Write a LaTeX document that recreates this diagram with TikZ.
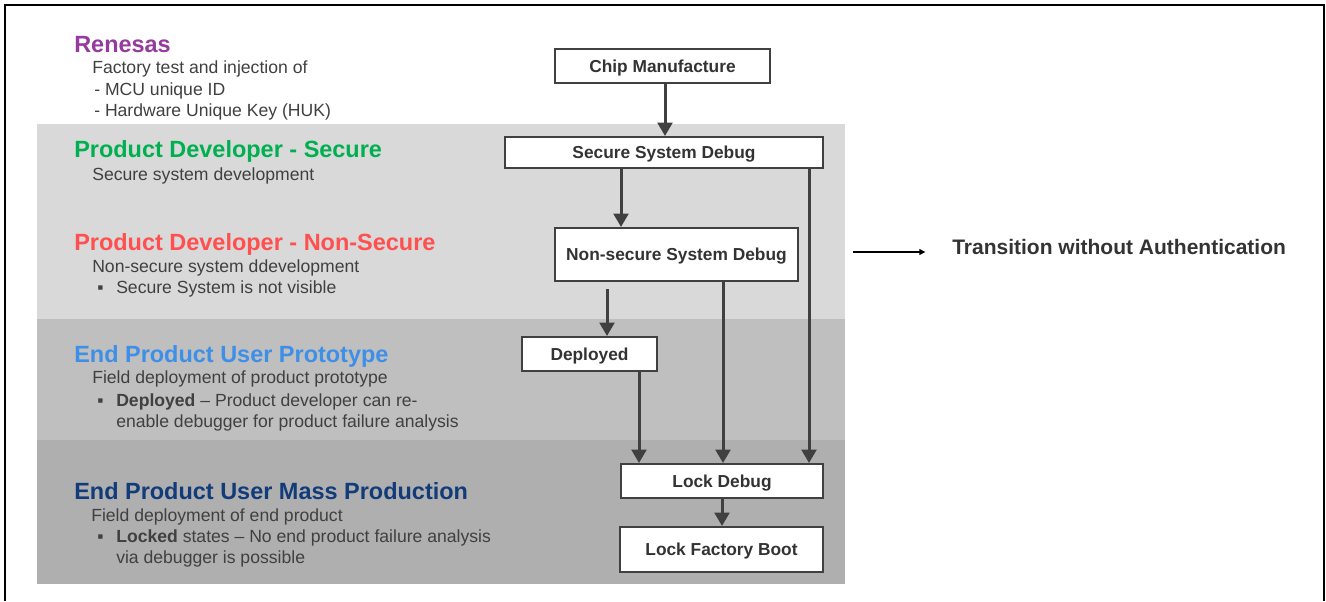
\documentclass[tikz,border=0pt]{standalone}
\usepackage{fontspec}
\setmainfont{Liberation Sans}
\usetikzlibrary{arrows.meta,calc}
\definecolor{renpurple}{HTML}{953A9E}
\definecolor{devgreen}{HTML}{00B050}
\definecolor{devred}{HTML}{FF4F4F}
\definecolor{protoblue}{HTML}{3D8FE8}
\definecolor{massnavy}{HTML}{123B7A}
\definecolor{txtgray}{HTML}{404040}
\begin{document}
\begin{tikzpicture}[x=0.75pt,y=-0.75pt,
    state/.style={draw=txtgray,line width=1.5pt,fill=white,inner sep=0pt,
      text height=9.4pt,text depth=0pt,
      text=black!80,font=\fontsize{13}{15}\selectfont\bfseries},
    flow/.style={draw=txtgray,line width=2.25pt,-{Triangle[width=11pt,length=10pt]}},
    head/.style={anchor=base west,inner sep=0pt,font=\fontsize{17.6}{20}\selectfont\bfseries},
    desc/.style={anchor=base west,inner sep=0pt,text=txtgray,font=\fontsize{13.2}{15}\selectfont}]
  \useasboundingbox (0,0) rectangle (1326,601);
  % frame
  \draw[line width=1.6pt] (5,601) -- (5,5) -- (1324,5) -- (1324,601);
  % bands
  \fill[gray!30] (37,124) rectangle (845,319);
  \fill[gray!50] (37,319) rectangle (845,440);
  \fill[gray!63] (37,440) rectangle (845,584);

  % left column
  \node[head,text=renpurple] (ren) at (74,52) {Renesas};
  \node[desc] (ren1) at (92,73) {Factory test and injection of};
  \node[desc] (ren2) at (94,95) {- MCU unique ID};
  \node[desc] (ren3) at (94,116) {- Hardware Unique Key (HUK)};

  \node[head,text=devgreen] (sec) at (74,157) {Product Developer - Secure};
  \node[desc] (sec1) at (92,180) {Secure system development};

  \node[head,text=devred] (nsec) at (74,250) {Product Developer - Non-Secure};
  \node[desc] (nsec1) at (92,272) {Non-secure system ddevelopment};
  \node[desc] (nsec2) at (97,293) {\makebox[14.25pt][l]{▪}Secure System is not visible};

  \node[head,text=protoblue] (proto) at (74,362) {End Product User Prototype};
  \node[desc] (proto1) at (92,383) {Field deployment of product prototype};
  \node[desc] (proto2) at (97,406) {\makebox[14.25pt][l]{▪}\textbf{Deployed} – Product developer can re-};
  \node[desc] (proto3) at (116,427) {enable debugger for product failure analysis};

  \node[head,text=massnavy] (mass) at (74,499) {End Product User Mass Production};
  \node[desc] (mass1) at (91,521) {Field deployment of end product};
  \node[desc] (mass2) at (97,542) {\makebox[14.25pt][l]{▪}\textbf{Locked} states – No end product failure analysis};
  \node[desc] (mass3) at (116,563) {via debugger is possible};

  % states
  \node[state,minimum width=161.25pt,minimum height=25.5pt] (chip) at (662.5,66) {Chip Manufacture};
  \node[state,minimum width=238.5pt,minimum height=23.25pt] (secure) at (664,152.5) {Secure System Debug};
  \node[state,minimum width=182.25pt,minimum height=39.75pt] (nonsec) at (676.5,254.5) {Non-secure System Debug};
  \node[state,minimum width=101.25pt,minimum height=25.5pt] (deployed) at (589.5,354) {Deployed};
  \node[state,minimum width=151.5pt,minimum height=25.5pt] (lockdbg) at (722,481) {Lock Debug};
  \node[state,minimum width=152.25pt,minimum height=33.75pt] (lockboot) at (721.5,549.5) {Lock Factory Boot};

  % transitions
  \draw[flow] (chip.south -| 665,0) -- (secure.north -| 665,0);
  \draw[flow] (secure.south -| 621,0) -- (nonsec.north -| 621,0);
  \draw[flow] (secure.south -| 809,0) -- (lockdbg.north -| 809,0);
  \draw[flow] ($(nonsec.south -| 607,0)+(0,7)$) -- (deployed.north -| 607,0);
  \draw[flow] (nonsec.south -| 723,0) -- (lockdbg.north -| 723,0);
  \draw[flow] (deployed.south -| 639,0) -- (lockdbg.north -| 639,0);
  \draw[flow] (lockdbg.south -| 722,0) -- (lockboot.north -| 722,0);

  % legend
  \coordinate (legtail) at (853,252);
  \node[anchor=base west,inner sep=0pt,text=black!80,font=\fontsize{15.75}{18}\selectfont\bfseries]
    (legend) at (952,254) {Transition without Authentication};
  \draw[line width=0.8pt,-{Triangle[width=4.5pt,length=4.5pt]},shorten >=20pt] (legtail) -- (legtail -| legend.west);
\end{tikzpicture}
\end{document}
